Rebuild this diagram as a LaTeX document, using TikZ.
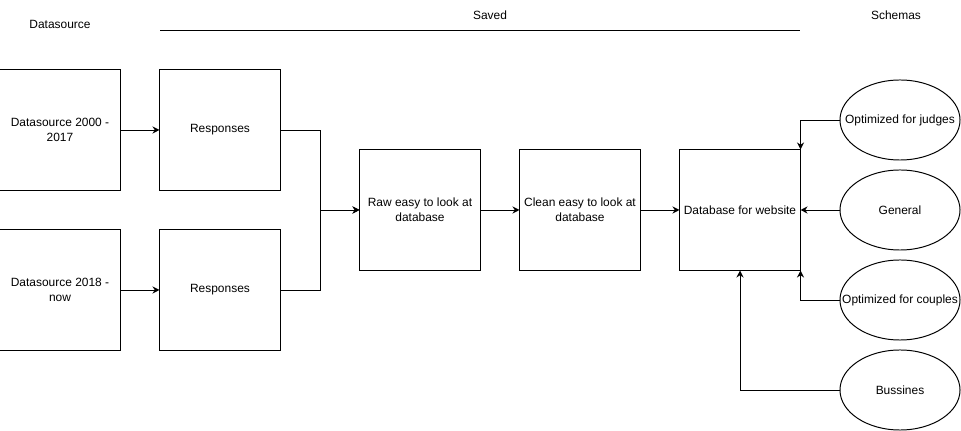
\documentclass[tikz,border=0pt]{standalone}
\usepackage{fontspec}
\setmainfont{Liberation Sans}
\usetikzlibrary{arrows.meta,shapes.geometric}
\begin{document}
\begin{tikzpicture}[x=0.025cm, y=-0.025cm, line width=0.7pt, font=\fontsize{8.5}{10.5}\selectfont]
				\tikzstyle{Box} = [rectangle, draw, minimum size=3cm, inner sep=0pt, align=center]
				\tikzstyle{Schema} = [ellipse, draw, minimum width=3cm, minimum height=2cm, inner sep=0pt]
				\tikzstyle{Flow} = [-{Stealth[length=5pt, width=5pt]}]
				\useasboundingbox (0,0) rectangle (961,431);
				\node (title1) at (60,24) {Datasource};
				\node (title2) at (490,15) {Saved};
				\node (title3) at (896,15) {Schemas};
				\coordinate (saveda) at (160,30.5);
				\coordinate (savedb) at (800,30.5);
				\draw (saveda) -- (savedb);
				\node (ds1) at (60,130) [Box, fill=white] {Datasource 2000 -\\2017};
				\node (ds2) at (60,290) [Box, fill=white] {Datasource 2018 -\\now};
				\node (resp1) at (220,130) [Box, fill=white] {Responses};
				\node (resp2) at (220,290) [Box, fill=white] {Responses};
				\node (raw) at (420,210) [Box, fill=white] {Raw easy to look at\\database};
				\node (clean) at (580,210) [Box, fill=white] {Clean easy to look at\\database};
				\node (db) at (740,210) [Box, fill=white] {Database for website};
				\node (judges) at (900,120) [Schema, fill=white] {\makebox[0pt]{Optimized for judges}};
				\node (general) at (900,210) [Schema, fill=white] {\makebox[0pt]{General}};
				\node (couples) at (900,300) [Schema, fill=white] {\makebox[0pt]{Optimized for couples}};
				\node (bussines) at (900,390) [Schema, fill=white] {\makebox[0pt]{Bussines}};
				\draw [Flow] (ds1) to (resp1);
				\draw [Flow] (ds2) to (resp2);
				\draw [Flow] (resp1.east) -- ++(40,0) |- (raw.west);
				\draw [Flow] (resp2.east) -- ++(40,0) |- (raw.west);
				\draw [Flow] (raw) to (clean);
				\draw [Flow] (clean) to (db);
				\draw [Flow] (judges.west) -| (db.north east);
				\draw [Flow] (general) to (db);
				\draw [Flow] (couples.west) -| (db.south east);
				\draw [Flow] (bussines.west) -| (db.south);
			\end{tikzpicture}
\end{document}
